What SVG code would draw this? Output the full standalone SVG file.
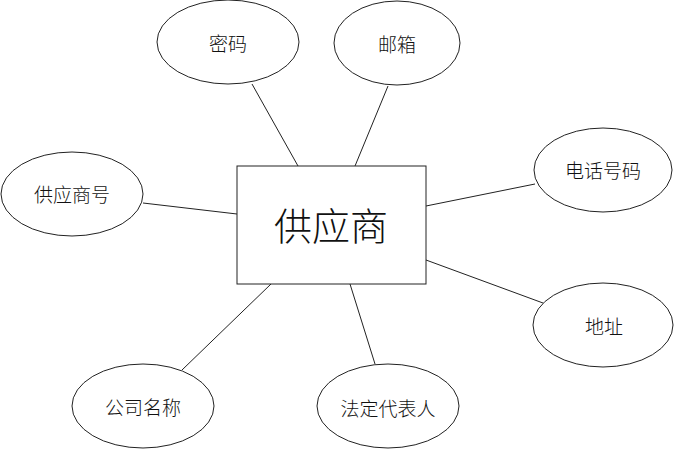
<svg xmlns="http://www.w3.org/2000/svg" width="676" height="450" viewBox="0 0 676 450">
<style>
.n{fill:#fff;stroke:#222;stroke-width:1}
.t{font-family:"Noto Sans CJK SC","Noto Sans",sans-serif;font-size:19px;fill:#111;text-anchor:middle;dominant-baseline:central;font-weight:300}
.big{font-size:38px}
.c line{stroke:#222;stroke-width:1}
</style>
<rect width="676" height="450" fill="#fff"/>
<g class="c" id="connectors">
<line x1="252" y1="84" x2="298" y2="166"/>
<line x1="388" y1="86" x2="355" y2="166"/>
<line x1="143" y1="203" x2="237" y2="214"/>
<line x1="535" y1="184" x2="426" y2="206"/>
<line x1="426" y1="260" x2="543" y2="303"/>
<line x1="182" y1="370" x2="271" y2="284"/>
<line x1="350" y1="284" x2="375" y2="364"/>
</g>
<g id="supplier"><rect class="n" x="237" y="166" width="189" height="118"/><text class="t big" x="331" y="223">供应商</text></g>
<g id="password"><ellipse class="n" cx="228" cy="42" rx="71" ry="42"/><text class="t" x="228" y="42">密码</text></g>
<g id="email"><ellipse class="n" cx="397" cy="43" rx="63" ry="42"/><text class="t" x="397" y="43">邮箱</text></g>
<g id="supplierNo"><ellipse class="n" cx="72" cy="194" rx="71" ry="42"/><text class="t" x="72" y="193">供应商号</text></g>
<g id="phone"><ellipse class="n" cx="603" cy="170" rx="69" ry="42"/><text class="t" x="603" y="169">电话号码</text></g>
<g id="address"><ellipse class="n" cx="603" cy="325" rx="70" ry="42"/><text class="t" x="604" y="325">地址</text></g>
<g id="company"><ellipse class="n" cx="143" cy="406" rx="71" ry="42"/><text class="t" x="143" y="406">公司名称</text></g>
<g id="legalRep"><ellipse class="n" cx="388" cy="406" rx="71" ry="42"/><text class="t" x="388" y="407">法定代表人</text></g>
</svg>
